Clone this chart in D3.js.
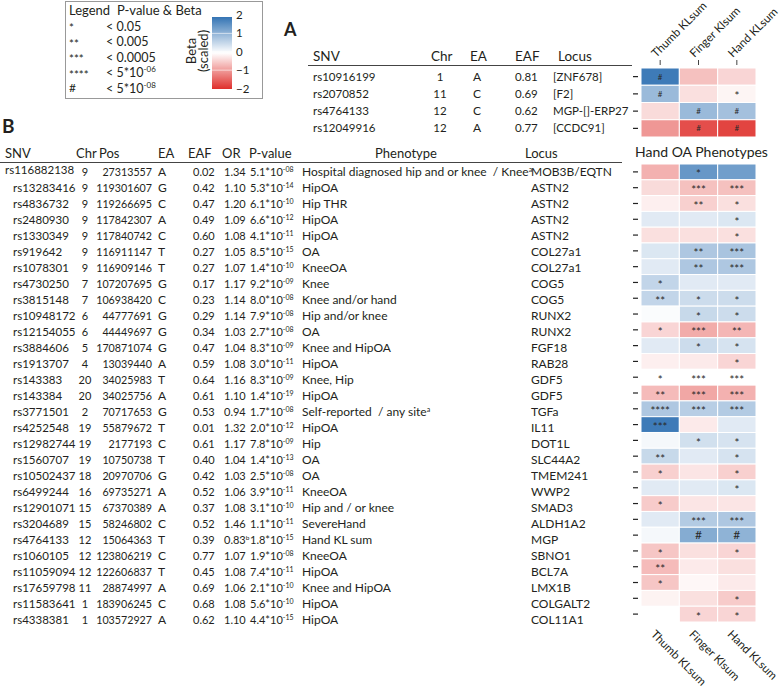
<!DOCTYPE html>
<html><head><meta charset="utf-8">
<script src="https://cdn.jsdelivr.net/npm/d3@7"></script>
<style>body{margin:0;background:#fff}svg{display:block}text{font-family:Lato,"Open Sans",sans-serif;fill:#231f20}</style>
</head><body><svg id="c" width="782" height="688"></svg>
<script>
// ---------- DATA ----------
const traits = ["Thumb KLsum","Finger Klsum","Hand KLsum"];
const legendSymbols = ["*","**","***","****","#"];
const legendThresholds = [["< 0.05",""],["< 0.005",""],["< 0.0005",""],["< 5*10","-06"],["< 5*10","-08"]];
const legendTicks = [2,1,0,-1,-2];

// Panel A
const snvA = ["rs10916199","rs2070852","rs4764133","rs12049916"];
const chrA = ["1","11","12","12"];
const eaA = ["A","C","C","A"];
const eafA = ["0.81","0.69","0.62","0.77"];
const locusA = ["[ZNF678]","[F2]","MGP-[]-ERP27","[CCDC91]"];
const thumbA = [1.9, 1.0, -0.35, -1.0];
const fingerA = [-0.6, -0.3, 1.0, -1.7];
const handA = [-0.4, -0.1, 0.9, -1.8];
const thumbSigA = ["#","#","",""];
const fingerSigA = ["","","#","#"];
const handSigA = ["","*","#","#"];

// Panel B
const snvB = ["rs116882138","rs13283416","rs4836732","rs2480930","rs1330349","rs919642","rs1078301","rs4730250","rs3815148","rs10948172","rs12154055","rs3884606","rs1913707","rs143383","rs143384","rs3771501","rs4252548","rs12982744","rs1560707","rs10502437","rs6499244","rs12901071","rs3204689","rs4764133","rs1060105","rs11059094","rs17659798","rs11583641","rs4338381"];
const chrB = ["9","9","9","9","9","9","9","7","7","6","6","5","4","20","20","2","19","19","19","18","16","15","15","12","12","12","11","1","1"];
const posB = ["27313557","119301607","119266695","117842307","117840742","116911147","116909146","107207695","106938420","44777691","44449697","170871074","13039440","34025983","34025756","70717653","55879672","2177193","10750738","20970706","69735271","67370389","58246802","15064363","123806219","122606837","28874997","183906245","103572927"];
const eaB = ["A","G","C","A","C","T","T","G","C","G","G","G","A","T","A","G","T","C","T","G","A","A","C","T","C","T","A","C","A"];
const eafB = ["0.02","0.42","0.47","0.49","0.60","0.27","0.27","0.17","0.23","0.29","0.34","0.47","0.59","0.64","0.61","0.53","0.01","0.61","0.40","0.42","0.52","0.37","0.52","0.39","0.77","0.45","0.69","0.68","0.62"];
const orB = ["1.34","1.10","1.20","1.09","1.08","1.05","1.07","1.17","1.14","1.14","1.03","1.04","1.08","1.16","1.10","0.94","1.32","1.17","1.04","1.03","1.06","1.08","1.46","0.83","1.07","1.08","1.06","1.08","1.10"];
const orNoteB = ["","","","","","","","","","","","","","","","","","","","","","","","b","","","","",""];
const pMantB = ["5.1","5.3","6.1","6.6","4.1","8.5","1.4","9.2","8.0","7.9","2.7","8.3","3.0","8.3","1.4","1.7","2.0","7.8","1.4","2.5","3.9","3.1","1.1","1.8","1.9","7.4","2.1","5.6","4.4"];
const pExpB = ["-08","-14","-10","-12","-11","-15","-10","-09","-08","-08","-08","-09","-11","-09","-19","-08","-12","-09","-13","-08","-11","-10","-11","-15","-08","-11","-10","-10","-15"];
const phenoB = ["Hospital diagnosed hip and or knee  / Knee","HipOA","Hip THR","HipOA","HipOA","OA","KneeOA","Knee","Knee and/or hand","Hip and/or knee","OA","Knee and HipOA","HipOA","Knee, Hip","HipOA","Self-reported  / any site","HipOA","Hip","OA","OA","KneeOA","Hip and / or knee","SevereHand","Hand KL sum","KneeOA","HipOA","Knee and HipOA","HipOA","HipOA"];
const phenoNoteB = ["a","","","","","","","","","","","","","","","a","","","","","","","","","","","","",""];
const locusB = ["MOB3B/EQTN","ASTN2","ASTN2","ASTN2","ASTN2","COL27a1","COL27a1","COG5","COG5","RUNX2","RUNX2","FGF18","RAB28","GDF5","GDF5","TGFa","IL11","DOT1L","SLC44A2","TMEM241","WWP2","SMAD3","ALDH1A2","MGP","SBNO1","BCL7A","LMX1B","COLGALT2","COL11A1"];
const thumbB  = [-0.75,-0.35,-0.15, 0.3,-0.3, 0.35, 0.3, 0.6, 0.6, 0.05,-0.4, 0.3,-0.15, 0.0,-0.65, 0.8, 1.9, 0.1, 0.55,-0.45, 0.3,-0.5, 0.3, 0.1,-0.55,-0.65,-0.55,-0.12, null];
const fingerB = [ 1.5,-0.6,-0.45, 0.3,-0.3, 0.8, 0.8, 0.3, 0.5, 0.55,-0.8, 0.5,-0.2, 0.0,-0.85, 0.7,-0.2, 0.45, 0.3,-0.25, 0.3,-0.25, 0.75, 1.2,-0.3,-0.2,-0.08,-0.3,-0.4];
const handB   = [ 1.4,-0.6,-0.3, 0.35,-0.3, 0.85, 0.8, 0.3, 0.5, 0.5,-0.7, 0.4,-0.4, 0.0,-0.75, 0.75, 0.3, 0.4, 0.4,-0.45, 0.35,-0.25, 0.8, 1.1,-0.4,-0.3,-0.2,-0.5,-0.4];
const thumbSigB  = ["","","","","","","","*","**","","*","","","*","**","****","***","","**","*","","*","","","*","**","*","",""];
const fingerSigB = ["*","***","**","","","**","**","","*","*","***","*","","***","***","***","","*","","","","","***","#","","","","","*"];
const handSigB   = ["","***","*","*","*","***","***","","*","*","**","*","*","***","***","***","","*","*","*","*","","***","#","*","","","*","*"];

// ---------- DRAW ----------
const svg = d3.select("#c");
const color = d3.scaleLinear().domain([-2,0,2]).range(["#df2f2b","#ffffff","#3474b4"]).clamp(true);
const xCol = d3.scaleBand().domain(traits).range([641,756]);

// Legend
const lg = svg.append("g");
lg.append("rect").attr("x",65.5).attr("y",1.5).attr("width",197).attr("height",97).attr("fill","#fff").attr("stroke","#999");
lg.append("text").attr("x",69).attr("y",15).attr("font-size",13).text("Legend");
lg.append("text").attr("x",117).attr("y",15).attr("font-size",13).text("P-value & Beta");
const yLegRow = d3.scalePoint().domain(d3.range(5)).range([26,88]);
legendSymbols.forEach((s,i)=>{
  lg.append("text").attr("x",69).attr("y",yLegRow(i)+(s==="#"?4:6)).attr("font-size",s==="#"?12:11.5).text(s);
  const t = lg.append("text").attr("x",106).attr("y",yLegRow(i)+4.5).attr("font-size",12.5).text(legendThresholds[i][0]);
  if (legendThresholds[i][1]) t.append("tspan").attr("dy",-5).attr("font-size",8).text(legendThresholds[i][1]);
});
const yLeg = d3.scaleLinear().domain([-2,2]).range([88.5,15]);
const grad = svg.append("defs").append("linearGradient").attr("id","lg").attr("x1",0).attr("y1",1).attr("x2",0).attr("y2",0);
d3.range(-2,2.01,0.25).forEach(v=>grad.append("stop").attr("offset",(v+2)/4).attr("stop-color",color(v)));
lg.append("rect").attr("x",212).attr("y",17).attr("width",20).attr("height",72).attr("fill","url(#lg)");
legendTicks.forEach(v=>{
  if (Math.abs(v)<2) lg.append("line").attr("x1",212).attr("x2",232).attr("y1",yLeg(v)).attr("y2",yLeg(v)).attr("stroke","#fff").attr("stroke-opacity",0.6);
  lg.append("text").attr("x",236).attr("y",yLeg(v)+4).attr("font-size",11.5).text(v<0?"\u2212"+(-v):v);
});
lg.append("text").attr("transform","translate(196,51) rotate(-90)").attr("text-anchor","middle").attr("font-size",13).text("Beta");
lg.append("text").attr("transform","translate(208,51) rotate(-90)").attr("text-anchor","middle").attr("font-size",13).text("(scaled)");

// Panel labels
svg.append("text").attr("x",284).attr("y",36).attr("font-size",18).attr("font-weight","bold").attr("font-family","Liberation Sans, Arial").text("A");
svg.append("text").attr("x",2).attr("y",133).attr("font-size",19).attr("font-weight","bold").attr("font-family","Liberation Sans, Arial").text("B");

const NUM = 11, TXT = 12, HFS = 13;

// Panel A table
const yA = d3.scaleBand().domain(d3.range(snvA.length)).range([68,137]);
const gA = svg.append("g").attr("font-size",TXT);
[["SNV",313],["Chr",431],["EA",470],["EAF",515],["Locus",558]].forEach(h=>{
  gA.append("text").attr("x",h[1]).attr("y",61).attr("font-size",HFS+0.5).text(h[0]);
});
gA.append("line").attr("x1",308).attr("x2",632).attr("y1",65.5).attr("y2",65.5).attr("stroke","#444").attr("stroke-width",1.2);
snvA.forEach((s,i)=>{
  const y = yA(i)+yA.bandwidth()/2+4;
  gA.append("text").attr("x",313).attr("y",y).attr("font-size",11.5).text(s);
  gA.append("text").attr("x",440).attr("y",y).attr("text-anchor","middle").attr("font-size",11.5).text(chrA[i]);
  gA.append("text").attr("x",477).attr("y",y).attr("text-anchor","middle").text(eaA[i]);
  gA.append("text").attr("x",515).attr("y",y).attr("font-size",11.5).text(eafA[i]);
  gA.append("text").attr("x",553).attr("y",y).attr("font-size",11.5).text(locusA[i]);
});

function heat(g, yScale, vals, sigs, sigSize){
  traits.forEach((t,j)=>{
    vals[j].forEach((v,i)=>{
      if (v===null) return;
      g.append("rect").attr("x",xCol(t)).attr("y",yScale(i)).attr("width",xCol.bandwidth()).attr("height",yScale.bandwidth())
        .attr("fill",color(v)).attr("stroke","#fff").attr("stroke-width",1);
    });
    sigs[j].forEach((s,i)=>{
      if (!s) return;
      const cy = yScale(i)+yScale.bandwidth()/2;
      g.append("text").attr("x",xCol(t)+xCol.bandwidth()/2).attr("y",cy+(s==="#"?sigSize*0.36:6.6)).attr("text-anchor","middle")
        .attr("font-size",s==="#"?sigSize:11.5).style("fill","#2a2a2a").text(s);
    });
  });
  yScale.domain().forEach(i=>{
    const cy = yScale(i)+yScale.bandwidth()/2;
    g.append("line").attr("x1",633).attr("x2",638).attr("y1",cy).attr("y2",cy).attr("stroke","#222").attr("stroke-width",1.2);
  });
}
const hA = svg.append("g");
heat(hA, yA, [thumbA,fingerA,handA], [thumbSigA,fingerSigA,handSigA], 8);
traits.forEach(t=>{
  const cx = xCol(t)+xCol.bandwidth()/2;
  hA.append("line").attr("x1",cx).attr("x2",cx).attr("y1",60).attr("y2",65).attr("stroke","#444");
  hA.append("text").attr("transform",`translate(${cx-4},58) rotate(-45)`).attr("font-size",11.5).text(t);
});

// Panel B table
const yB = d3.scaleBand().domain(d3.range(snvB.length)).range([164,622]);   // heatmap rows
const yBt = d3.scaleBand().domain(d3.range(snvB.length)).range([164,628]);  // table text rows
const gB = svg.append("g").attr("font-size",TXT);
[["SNV",5],["Chr",76],["Pos",99],["EA",158],["EAF",188],["OR",222],["P-value",249],["Phenotype",375],["Locus",525]].forEach(h=>{
  gB.append("text").attr("x",h[1]).attr("y",158).attr("font-size",HFS).text(h[0]);
});
gB.append("line").attr("x1",0).attr("x2",622).attr("y1",162.5).attr("y2",162.5).attr("stroke","#444").attr("stroke-width",1.2);
svg.append("text").attr("x",635).attr("y",157).attr("font-size",14).text("Hand OA Phenotypes");
snvB.forEach((s,i)=>{
  const y = yBt(i)+yBt.bandwidth()/2+4;
  gB.append("text").attr("x",i===0?5:13).attr("y",i===0?y-2:y).attr("font-size",11.5).text(s);
  gB.append("text").attr("x",85).attr("y",y).attr("text-anchor","middle").attr("font-size",NUM).text(chrB[i]);
  gB.append("text").attr("x",152).attr("y",y).attr("text-anchor","end").attr("font-size",10.7).text(posB[i]);
  gB.append("text").attr("x",158).attr("y",y).text(eaB[i]);
  gB.append("text").attr("x",193).attr("y",y).attr("font-size",NUM).text(eafB[i]);
  const o = gB.append("text").attr("x",224).attr("y",y).attr("font-size",NUM).text(orB[i]);
  if (orNoteB[i]) o.append("tspan").attr("dy",-4).attr("font-size",6.5).text(orNoteB[i]);
  const p = gB.append("text").attr("x",250).attr("y",y).attr("font-size",NUM).text(pMantB[i]+"*10");
  p.append("tspan").attr("dy",-4).attr("font-size",7).text(pExpB[i]);
  const ph = gB.append("text").attr("x",302).attr("y",y).attr("font-size",12).style("white-space","pre").text(phenoB[i]);
  if (phenoNoteB[i]) ph.append("tspan").attr("dy",-4).attr("font-size",7).text(phenoNoteB[i]);
  gB.append("text").attr("x",531).attr("y",y).text(locusB[i]);
});
const hB = svg.append("g");
heat(hB, yB, [thumbB,fingerB,handB], [thumbSigB,fingerSigB,handSigB], 12);
traits.forEach(t=>{
  const cx = xCol(t)+xCol.bandwidth()/2;
  hB.append("text").attr("transform",`translate(${cx-10},635) rotate(45)`).attr("font-size",11.5).text(t);
});
</script></body></html>
